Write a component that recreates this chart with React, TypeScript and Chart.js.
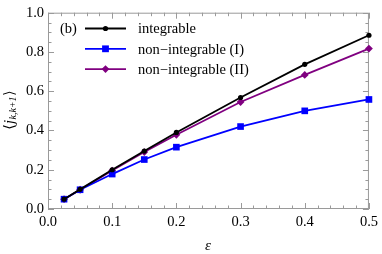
import React, { useEffect, useRef } from "react";
import { Chart, registerables } from "chart.js";
Chart.register(...registerables);

const epsilon = [0.025, 0.05, 0.1, 0.15, 0.2, 0.3, 0.4, 0.5];
const integrable = [0.05, 0.1, 0.2, 0.295, 0.39, 0.568, 0.737, 0.885];
const nonIntegrableI = [0.05, 0.098, 0.178, 0.252, 0.315, 0.42, 0.5, 0.558];
const nonIntegrableII = [0.05, 0.098, 0.196, 0.29, 0.378, 0.545, 0.683, 0.817];
const seriesNames = ["integrable", "non\u2212integrable (I)", "non\u2212integrable (II)"];
const seriesColors = ["#000000", "#0000ff", "#800080"];
const seriesMarkers = ["circle", "rect", "rectRot"];
const pointRadii = [2.6, 4.7, 3.9];
const xTicks = [0, 0.1, 0.2, 0.3, 0.4, 0.5];
const yTicks = [0, 0.2, 0.4, 0.6, 0.8, 1.0];
const panelLabel = "(b)";

const FONT = '"Liberation Serif", "DejaVu Serif", serif';

const framePlugin = {
  id: "frame",
  beforeDatasetsDraw(chart: any) {
    const { ctx, chartArea: a, scales } = chart;
    const xs = scales.x, ys = scales.y;
    ctx.save();
    ctx.strokeStyle = "#9a9a9a";
    ctx.lineWidth = 1;
    ctx.strokeRect(a.left + 0.5, a.top + 0.5, a.right - a.left - 1, a.bottom - a.top - 1);
    ctx.beginPath();
    for (let i = 0; i <= 25; i++) {
      const v = i * 0.02;
      const px = Math.round(xs.getPixelForValue(v)) + 0.5;
      const len = i % 5 === 0 ? 6 : 3.5;
      ctx.moveTo(px, a.bottom); ctx.lineTo(px, a.bottom - len);
      ctx.moveTo(px, a.top); ctx.lineTo(px, a.top + len);
    }
    for (let i = 0; i <= 20; i++) {
      const v = i * 0.05;
      const py = Math.round(ys.getPixelForValue(v)) + 0.5;
      const len = i % 4 === 0 ? 6 : 3.5;
      ctx.moveTo(a.left, py); ctx.lineTo(a.left + len, py);
      ctx.moveTo(a.right, py); ctx.lineTo(a.right - len, py);
    }
    ctx.stroke();
    ctx.restore();
  },
  afterDraw(chart: any) {
    const { ctx } = chart;
    ctx.save();
    // legend
    ctx.fillStyle = "#000";
    ctx.font = `14.5px ${FONT}`;
    ctx.textBaseline = "middle";
    ctx.textAlign = "left";
    ctx.fillText(panelLabel, 60, 29.5);
    for (let i = 0; i < 3; i++) {
      const y = 28.5 + i * 20.3;
      ctx.strokeStyle = seriesColors[i];
      ctx.lineWidth = 1.8;
      ctx.beginPath();
      ctx.moveTo(85, y);
      ctx.lineTo(126, y);
      ctx.stroke();
      ctx.fillStyle = seriesColors[i];
      ctx.beginPath();
      const cx = 105.5;
      if (seriesMarkers[i] === "circle") ctx.arc(cx, y, 2.6, 0, Math.PI * 2);
      else if (seriesMarkers[i] === "rect") ctx.rect(cx - 3.4, y - 3.4, 6.8, 6.8);
      else { const r = 3.9; ctx.moveTo(cx, y - r); ctx.lineTo(cx + r, y); ctx.lineTo(cx, y + r); ctx.lineTo(cx - r, y); ctx.closePath(); }
      ctx.fill();
      ctx.fillStyle = "#000";
      ctx.fillText(seriesNames[i], 138, y + 1);
    }
    // x title
    ctx.font = `italic 15px ${FONT}`;
    ctx.textAlign = "center";
    ctx.fillText("\u03b5", 208, 246);
    // y title
    ctx.translate(10, 110);
    ctx.rotate(-Math.PI / 2);
    ctx.textAlign = "left";
    ctx.font = `14.5px ${FONT}`;
    const p1 = "\u27e8";
    const w1 = ctx.measureText(p1).width;
    ctx.font = `italic 14.5px ${FONT}`;
    const p2 = "j";
    const w2 = ctx.measureText(p2).width;
    ctx.font = `italic 10px ${FONT}`;
    const p3 = "k,k+1";
    const w3 = ctx.measureText(p3).width;
    ctx.font = `14.5px ${FONT}`;
    const p4 = "\u27e9";
    const w4 = ctx.measureText(p4).width;
    let x = -(w1 + w2 + w3 + w4 + 1) / 2;
    ctx.fillText(p1, x, 0); x += w1;
    ctx.font = `italic 14.5px ${FONT}`;
    ctx.fillText(p2, x, 0); x += w2 + 0.5;
    ctx.font = `italic 10px ${FONT}`;
    ctx.fillText(p3, x, 3.5); x += w3 + 0.5;
    ctx.font = `14.5px ${FONT}`;
    ctx.fillText(p4, x, 0);
    ctx.restore();
  },
};

export default function App() {
  const ref = useRef<HTMLCanvasElement>(null);
  useEffect(() => {
    const data = [integrable, nonIntegrableI, nonIntegrableII];
    const chart = new Chart(ref.current!, {
      type: "line",
      data: {
        datasets: data.map((arr, i) => ({
          label: seriesNames[i],
          data: arr.map((v, j) => ({ x: epsilon[j], y: v })),
          borderColor: seriesColors[i],
          backgroundColor: seriesColors[i],
          borderWidth: 1.8,
          pointStyle: seriesMarkers[i] as any,
          pointRadius: pointRadii[i],
          pointBorderWidth: 0,
          tension: 0,
          clip: false as any,
        })),
      },
      options: {
        animation: false,
        responsive: false,
        devicePixelRatio: 1,
        layout: { padding: { top: 9, right: 11, left: 0, bottom: 0 } },
        plugins: { legend: { display: false }, tooltip: { enabled: false } },
        scales: {
          x: {
            type: "linear",
            min: 0,
            max: 0.5,
            afterBuildTicks: (s: any) => { s.ticks = xTicks.map((v) => ({ value: v })); },
            afterFit: (s: any) => { s.height = 45; },
            grid: { display: false, drawTicks: false },
            border: { display: false },
            ticks: {
              color: "#000",
              font: { family: FONT, size: 14.5 },
              padding: 4,
              callback: (v: any) => Number(v).toFixed(1),
            },
          },
          y: {
            type: "linear",
            min: 0,
            max: 1,
            afterBuildTicks: (s: any) => { s.ticks = yTicks.map((v) => ({ value: v })); },
            afterFit: (s: any) => { s.width = 48; },
            grid: { display: false, drawTicks: false },
            border: { display: false },
            ticks: {
              color: "#000",
              font: { family: FONT, size: 14.5 },
              padding: 4,
              callback: (v: any) => Number(v).toFixed(1),
            },
          },
        },
      },
      plugins: [framePlugin],
    });
    return () => chart.destroy();
  }, []);
  return (
    <div style={{ position: "fixed", left: 0, top: 0, width: 382, height: 254, background: "#fff" }}>
      <canvas ref={ref} width={382} height={254} style={{ width: 382, height: 254 }} />
    </div>
  );
}
